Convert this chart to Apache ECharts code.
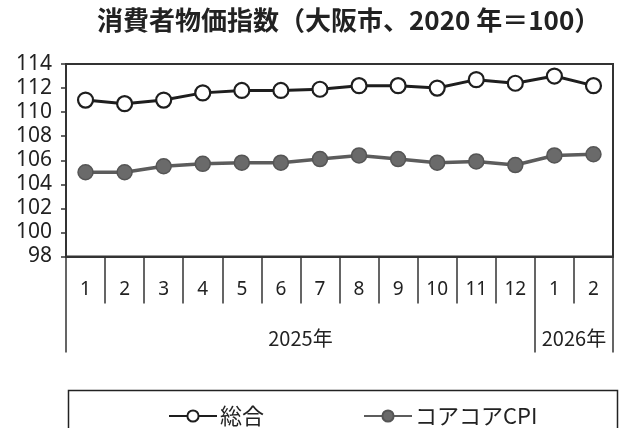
<!DOCTYPE html>
<html>
<head>
<meta charset="utf-8">
<script src="https://cdn.jsdelivr.net/npm/echarts@6/dist/echarts.min.js"></script>
<style>
  html, body { margin: 0; padding: 0; background: #fff; }
  #chart { width: 622px; height: 428px; }
</style>
</head>
<body>
<div id="chart"></div>
<script>
// Monthly CPI for Osaka city (2020 = 100)
const months = ['1', '2', '3', '4', '5', '6', '7', '8', '9', '10', '11', '12', '1', '2'];
const years = ['2025年', '2026年'];
const yearSpans = [12, 2];
const sogo = [111.0, 110.7, 111.0, 111.6, 111.8, 111.8, 111.9, 112.2, 112.2, 112.0, 112.7, 112.4, 113.0, 112.2];
const corecore = [105.0, 105.0, 105.5, 105.7, 105.8, 105.8, 106.1, 106.4, 106.1, 105.8, 105.9, 105.6, 106.4, 106.5];
const yTicks = { min: 98, max: 114, step: 2 };

// Year group boundaries and label centres on a 0..N scale
const yearBounds = [0];
const yearCenters = [];
yearSpans.forEach((s, i) => {
  const start = yearBounds[yearBounds.length - 1];
  yearCenters.push(start + s / 2);
  yearBounds.push(start + s);
});

const FONT = '"Noto Sans", "Noto Sans CJK JP", sans-serif';
const JFONT = '"Noto Sans CJK JP", sans-serif';

const chart = echarts.init(document.getElementById('chart'), null, { renderer: 'canvas' });

chart.setOption({
  backgroundColor: '#fff',
  animation: false,
  title: {
    text: '消費者物価指数（大阪市、2020 年＝100）',
    left: 92,
    top: 2,
    textStyle: { fontFamily: JFONT, fontWeight: 'bold', fontSize: 26, color: '#222' }
  },
  graphic: [{
    type: 'rect',
    left: 66, top: 388,
    shape: { width: 549, height: 60 },
    style: { fill: 'none', stroke: '#222', lineWidth: 1.5 },
    z: 0
  }],
  legend: {
    left: 163,
    top: 400,
    itemGap: 99,
    itemWidth: 48,
    itemHeight: 14,
    textStyle: { fontFamily: JFONT, fontSize: 22, color: '#222', padding: [0, 0, 0, -2] },
    data: ['総合', 'コアコアCPI']
  },
  grid: {
    left: 66, right: 9, top: 64, bottom: 171.5,
    show: true,
    borderColor: '#333',
    borderWidth: 2
  },
  xAxis: [{
    type: 'category',
    data: months,
    boundaryGap: true,
    axisLine: { lineStyle: { color: '#333', width: 2 } },
    axisTick: { show: true, length: 47, inside: false, lineStyle: { color: '#333', width: 1.5 } },
    axisLabel: { margin: 24, fontFamily: FONT, fontSize: 19, color: '#222', interval: 0 }
  }, {
    type: 'value',
    min: 0,
    max: months.length,
    position: 'bottom',
    axisLine: { show: false },
    splitLine: { show: false },
    axisTick: { show: true, length: 96, customValues: yearBounds, lineStyle: { color: '#333', width: 1.5 } },
    axisLabel: {
      customValues: yearCenters,
      margin: 72,
      fontFamily: JFONT, fontSize: 20, color: '#222',
      formatter: v => years[yearCenters.indexOf(v)] || ''
    }
  }],
  yAxis: {
    type: 'value',
    min: yTicks.min,
    max: yTicks.max,
    interval: yTicks.step,
    axisLine: { show: true, lineStyle: { color: '#333', width: 2 } },
    axisTick: { show: true, length: 5, lineStyle: { color: '#333', width: 1.5 } },
    splitLine: { show: false },
    axisLabel: { margin: 14, fontFamily: FONT, fontSize: 21, color: '#222' }
  },
  series: [{
    name: '総合',
    type: 'line',
    data: sogo,
    symbol: 'circle',
    symbolSize: 15,
    lineStyle: { color: '#1e1e1e', width: 3 },
    itemStyle: { color: '#fff', borderColor: '#1e1e1e', borderWidth: 2.2 }
  }, {
    name: 'コアコアCPI',
    type: 'line',
    data: corecore,
    symbol: 'circle',
    symbolSize: 15,
    lineStyle: { color: '#5c5c5c', width: 3.5 },
    itemStyle: { color: '#6a6a6a', borderColor: '#555', borderWidth: 1.5 }
  }]
});
</script>
</body>
</html>
